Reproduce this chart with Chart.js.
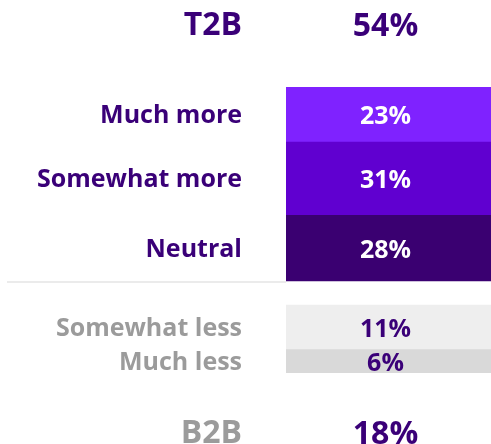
<!DOCTYPE html>
<html>
<head>
<meta charset="utf-8">
<script src="https://cdn.jsdelivr.net/npm/chart.js@4.4.1/dist/chart.umd.min.js"></script>
<style>
  html, body { margin: 0; padding: 0; background: #ffffff; }
  #wrap { width: 491px; height: 444px; position: relative; }
</style>
</head>
<body>
<div id="wrap"><canvas id="c" width="491" height="444"></canvas></div>
<script>
// ---- data ----
const topCategories = ['Much more', 'Somewhat more', 'Neutral'];
const topValues = [23, 31, 28];
const bottomCategories = ['Somewhat less', 'Much less'];
const bottomValues = [11, 6];
const summaryLabels = ['T2B', 'B2B'];
const summaryValues = [54, 18];

// ---- styles ----
const PURPLE_TEXT = '#3a0078';
const GRAY_TEXT = '#9b9b9b';
const topColors = ['#7f22ff', '#6000d0', '#3a0071'];
const bottomColors = ['#eeeeee', '#d9d9d9'];
const FONT = '"Open Sans", "DejaVu Sans", sans-serif';

// layout constants (pixels)
const AREA_TOP = 87, AREA_BOTTOM = 373, BAR_LEFT = 286;
const TOP_SECTION_BOTTOM = 281;   // bottom of Neutral block
const BOTTOM_SECTION_TOP = 305;   // top of Somewhat less block
const areaH = AREA_BOTTOM - AREA_TOP;

const sum = a => a.reduce((s, v) => s + v, 0);
const topSum = sum(topValues);
const bottomSum = sum(bottomValues);
const topPx = TOP_SECTION_BOTTOM - AREA_TOP;
const bottomPx = AREA_BOTTOM - BOTTOM_SECTION_TOP;

const datasets = [];
topCategories.forEach((c, i) => datasets.push({
  label: c, data: [topValues[i]], yAxisID: 'y', stack: 's',
  backgroundColor: topColors[i], labelColor: PURPLE_TEXT, valueColor: '#ffffff', borderWidth: 0
}));
bottomCategories.forEach((c, i) => datasets.push({
  label: c, data: [bottomValues[i]], yAxisID: 'y2', stack: 's',
  backgroundColor: bottomColors[i], labelColor: GRAY_TEXT, valueColor: PURPLE_TEXT, borderWidth: 0
}));

const textPlugin = {
  id: 'textPlugin',
  beforeDatasetsDraw(chart) {
    const ctx = chart.ctx;
    const el = chart.getDatasetMeta(topCategories.length - 1).data[0];
    const y = Math.max(el.y, el.base) + 1;
    ctx.save();
    ctx.strokeStyle = '#ebebeb';
    ctx.lineWidth = 2;
    ctx.beginPath();
    ctx.moveTo(7, y);
    ctx.lineTo(chart.chartArea.left, y);
    ctx.stroke();
    ctx.restore();
  },
  afterDatasetsDraw(chart) {
    const ctx = chart.ctx;
    const area = chart.chartArea;
    const labelX = area.left - 44;
    const valueX = (area.left + area.right) / 2 - 3;
    ctx.save();
    ctx.textBaseline = 'alphabetic';
    chart.data.datasets.forEach((ds, i) => {
      const el = chart.getDatasetMeta(i).data[0];
      const cy = (el.y + el.base) / 2;
      ctx.font = '700 25px ' + FONT;
      ctx.textAlign = 'right';
      ctx.fillStyle = ds.labelColor;
      ctx.fillText(ds.label, labelX, cy + 9);
      ctx.textAlign = 'center';
      ctx.fillStyle = ds.valueColor;
      ctx.fillText(ds.data[0] + '%', valueX, cy + 10);
    });
    // summary rows
    ctx.font = '700 32px ' + FONT;
    const sy = [area.top - 52, area.bottom + 70];
    const sc = [PURPLE_TEXT, GRAY_TEXT];
    summaryLabels.forEach((lab, i) => {
      ctx.textAlign = 'right';
      ctx.fillStyle = sc[i];
      ctx.fillText(lab, labelX, sy[i]);
      ctx.textAlign = 'center';
      ctx.fillStyle = PURPLE_TEXT;
      ctx.fillText(summaryValues[i] + '%', valueX, sy[i] + 1);
    });
    ctx.restore();
  }
};

new Chart(document.getElementById('c'), {
  type: 'bar',
  data: { labels: [''], datasets },
  options: {
    responsive: false,
    animation: false,
    events: [],
    layout: { padding: { left: BAR_LEFT, right: 0, top: AREA_TOP, bottom: 444 - AREA_BOTTOM } },
    datasets: { bar: { barPercentage: 1, categoryPercentage: 1 } },
    plugins: { legend: { display: false }, tooltip: { enabled: false } },
    scales: {
      x: { display: false, stacked: true },
      y: { display: false, stacked: true, reverse: true, min: 0, max: topSum * areaH / topPx },
      y2: { display: false, stacked: true, reverse: true,
            min: -bottomSum * (BOTTOM_SECTION_TOP - AREA_TOP) / bottomPx, max: bottomSum }
    }
  },
  plugins: [textPlugin]
});
</script>
</body>
</html>
